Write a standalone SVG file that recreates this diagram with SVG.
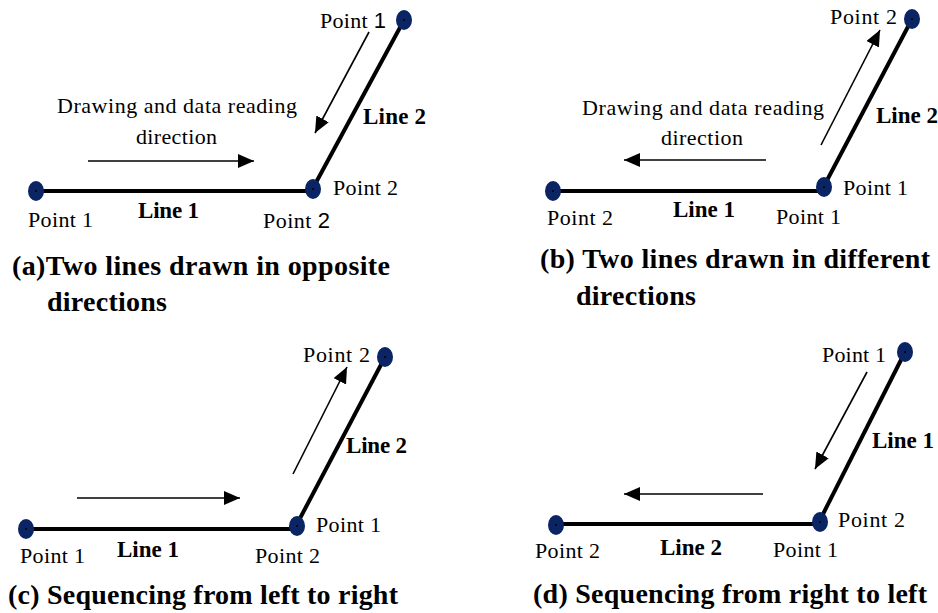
<svg xmlns="http://www.w3.org/2000/svg" width="938" height="613" viewBox="0 0 938 613">
<style>
.t{font-family:"Liberation Serif","Times New Roman",serif;font-size:22px;fill:#000}
.b{font-family:"Liberation Serif","Times New Roman",serif;font-size:23px;font-weight:bold;fill:#000}
.c{font-family:"Liberation Serif","Times New Roman",serif;font-size:28px;font-weight:bold;fill:#000}
.s{font-family:"Liberation Sans",Arial,sans-serif}
.seg{stroke:#000;stroke-width:4;fill:none}
.arr{stroke:#000;stroke-width:1.6;fill:none;marker-end:url(#ah)}
.dot{fill:#0b2463}
.pin{fill:#000}
</style>
<defs>
<marker id="ah" markerUnits="userSpaceOnUse" markerWidth="18" markerHeight="16" refX="16" refY="7" orient="auto">
<path d="M0,0 L16,7 L0,14 Z" fill="#000"/>
</marker>
</defs>
<rect width="938" height="613" fill="#fff"/>

<g id="connectors">
<line class="seg" x1="36" y1="191" x2="313" y2="191"/>
<line class="seg" x1="313" y1="188" x2="403" y2="22"/>
<line class="arr" x1="88" y1="161" x2="254" y2="161"/>
<line class="arr" x1="369" y1="32" x2="315" y2="133"/>
<line class="seg" x1="553" y1="191" x2="824" y2="191"/>
<line class="seg" x1="824" y1="186" x2="911" y2="21"/>
<line class="arr" x1="766" y1="160" x2="624" y2="160"/>
<line class="arr" x1="821" y1="145" x2="880" y2="30"/>
<line class="seg" x1="26" y1="529" x2="297" y2="529"/>
<line class="seg" x1="297" y1="524" x2="384" y2="359"/>
<line class="arr" x1="77" y1="498" x2="240" y2="498"/>
<line class="arr" x1="293" y1="474" x2="347" y2="367"/>
<line class="seg" x1="556" y1="524" x2="820" y2="524"/>
<line class="seg" x1="820" y1="520" x2="904" y2="354"/>
<line class="arr" x1="763" y1="494" x2="624" y2="494"/>
<line class="arr" x1="867" y1="372" x2="815" y2="469"/>
</g>

<g id="panel-a">
<g id="a-p1"><ellipse class="dot" cx="36" cy="191" rx="8" ry="10"/><circle class="pin" cx="36" cy="191" r="1"/></g>
<g id="a-p2"><ellipse class="dot" cx="313" cy="189" rx="8" ry="10"/><circle class="pin" cx="313" cy="189" r="1"/></g>
<g id="a-p3"><ellipse class="dot" cx="404" cy="20" rx="8" ry="10"/><circle class="pin" cx="404" cy="20" r="1"/></g>
<text class="t" x="28" y="227" textLength="65">Point 1</text>
<text class="b" x="138" y="218" textLength="61">Line 1</text>
<text class="t" x="263" y="228" textLength="67">Point <tspan class="s">2</tspan></text>
<text class="t" x="333" y="195" textLength="65">Point 2</text>
<text class="t" x="320" y="28" textLength="66">Point <tspan class="s">1</tspan></text>
<text class="b" x="363" y="124" textLength="63">Line 2</text>
<text class="t" x="57" y="113" textLength="240">Drawing and data reading</text>
<text class="t" x="136" y="144" textLength="81">direction</text>
<text class="c" x="12" y="275" textLength="378">(a)Two lines drawn in opposite</text>
<text class="c" x="47" y="311" textLength="120">directions</text>
</g>

<g id="panel-b">
<g id="b-p1"><ellipse class="dot" cx="553" cy="191" rx="8" ry="10"/><circle class="pin" cx="553" cy="191" r="1"/></g>
<g id="b-p2"><ellipse class="dot" cx="824" cy="187" rx="8" ry="10"/><circle class="pin" cx="824" cy="187" r="1"/></g>
<g id="b-p3"><ellipse class="dot" cx="912" cy="19" rx="8" ry="10"/><circle class="pin" cx="912" cy="19" r="1"/></g>
<text class="t" x="547" y="225" textLength="66">Point 2</text>
<text class="b" x="673" y="217" textLength="62">Line 1</text>
<text class="t" x="776" y="224" textLength="65">Point 1</text>
<text class="t" x="843" y="195" textLength="65">Point 1</text>
<text class="t" x="830" y="24" textLength="67">Point 2</text>
<text class="b" x="876" y="123" textLength="62">Line 2</text>
<text class="t" x="582" y="115" textLength="242">Drawing and data reading</text>
<text class="t" x="661" y="145" textLength="82">direction</text>
<text class="c" x="540" y="268" textLength="390">(b) Two lines drawn in different</text>
<text class="c" x="576" y="305" textLength="120">directions</text>
</g>

<g id="panel-c">
<g id="c-p1"><ellipse class="dot" cx="26" cy="529" rx="8" ry="10"/><circle class="pin" cx="26" cy="529" r="1"/></g>
<g id="c-p2"><ellipse class="dot" cx="297" cy="526" rx="8" ry="10"/><circle class="pin" cx="297" cy="526" r="1"/></g>
<g id="c-p3"><ellipse class="dot" cx="385" cy="357" rx="8" ry="10"/><circle class="pin" cx="385" cy="357" r="1"/></g>
<text class="t" x="20" y="563" textLength="65">Point 1</text>
<text class="b" x="117" y="557" textLength="62">Line 1</text>
<text class="t" x="255" y="563" textLength="65">Point 2</text>
<text class="t" x="316" y="532" textLength="65">Point 1</text>
<text class="t" x="303" y="362" textLength="67">Point 2</text>
<text class="b" x="346" y="453" textLength="61">Line 2</text>
<text class="c" x="8" y="604" textLength="390">(c) Sequencing from left to right</text>
</g>

<g id="panel-d">
<g id="d-p1"><ellipse class="dot" cx="556" cy="525" rx="8" ry="10"/><circle class="pin" cx="556" cy="525" r="1"/></g>
<g id="d-p2"><ellipse class="dot" cx="820" cy="522" rx="8" ry="10"/><circle class="pin" cx="820" cy="522" r="1"/></g>
<g id="d-p3"><ellipse class="dot" cx="905" cy="352" rx="8" ry="10"/><circle class="pin" cx="905" cy="352" r="1"/></g>
<text class="t" x="535" y="558" textLength="65">Point 2</text>
<text class="b" x="660" y="555" textLength="62">Line 2</text>
<text class="t" x="773" y="557" textLength="65">Point 1</text>
<text class="t" x="838" y="527" textLength="67">Point 2</text>
<text class="t" x="822" y="362" textLength="64">Point 1</text>
<text class="b" x="872" y="448" textLength="62">Line 1</text>
<text class="c" x="533" y="603" textLength="394">(d) Sequencing from right to left</text>
</g>
</svg>
